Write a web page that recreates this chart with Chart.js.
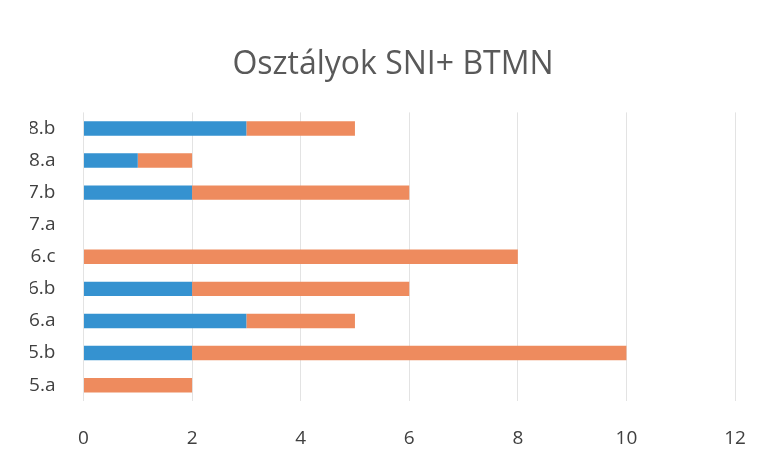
<!DOCTYPE html>
<html>
<head>
<meta charset="utf-8">
<script src="https://cdn.jsdelivr.net/npm/chart.js@4"></script>
<style>
  html, body { margin: 0; padding: 0; background: #fff; }
  #wrap { width: 764px; height: 456px; }
</style>
</head>
<body>
<div id="wrap"><canvas id="osztalyChart" width="764" height="456"></canvas></div>
<script>
// class labels, top to bottom as in the picture
const classes = ["8.b", "8.a", "7.b", "7.a", "6.c", "6.b", "6.a", "5.b", "5.a"];
const sniValues = [3, 1, 2, 0, 0, 2, 3, 2, 0];   // blue
const btmnValues = [2, 1, 4, 0, 8, 4, 2, 8, 2];  // orange
const xTicks = [0, 2, 4, 6, 8, 10, 12];

const fontName = "'Open Sans', 'Liberation Sans', sans-serif";

const ctx = document.getElementById("osztalyChart").getContext("2d");
new Chart(ctx, {
  type: "bar",
  data: {
    labels: classes,
    datasets: [
      {
        label: "SNI",
        data: sniValues,
        backgroundColor: "#3592d0",
        barPercentage: 0.5,
        categoryPercentage: 0.9,
      },
      {
        label: "BTMN",
        data: btmnValues,
        backgroundColor: "#ee8b5e",
        barPercentage: 0.5,
        categoryPercentage: 0.9,
      },
    ],
  },
  options: {
    indexAxis: "y",
    responsive: false,
    animation: false,
    // symmetric-ish padding so the title sits where it does in the original
    layout: { padding: { left: 30, right: 8, top: 46, bottom: -20 } },
    plugins: {
      legend: { display: false },
      tooltip: { enabled: false },
      title: {
        display: true,
        text: "Osztályok SNI+ BTMN",
        color: "#595959",
        font: { family: fontName, size: 32, weight: "normal" },
        padding: { top: 0, bottom: 28 },
      },
    },
    scales: {
      x: {
        stacked: true,
        min: 0,
        max: 12,
        afterBuildTicks: (axis) => {
          axis.ticks = xTicks.map((v) => ({ value: v }));
        },
        // big tick padding pushes the right edge in, so cap it
        afterFit: (axis) => {
          axis.paddingRight = 29;
        },
        grid: { color: "#e3e3e3", drawTicks: false },
        border: { display: false },
        ticks: {
          color: "#404040",
          padding: 26,
          font: { family: fontName, size: 19 },
        },
      },
      y: {
        stacked: true,
        afterFit: (axis) => {
          axis.width -= 22;
        },
        grid: { display: false },
        border: { display: false },
        ticks: {
          color: "#404040",
          padding: 20,
          font: { family: fontName, size: 19 },
        },
      },
    },
  },
});
</script>
</body>
</html>
